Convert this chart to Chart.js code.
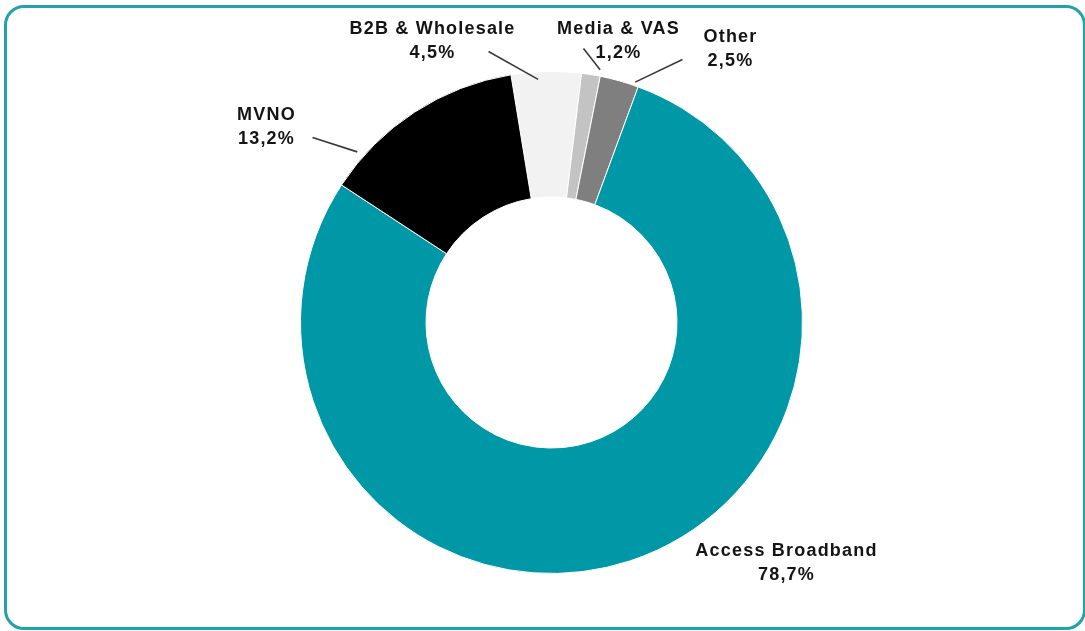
<!DOCTYPE html>
<html>
<head>
<meta charset="utf-8">
<script src="https://cdn.jsdelivr.net/npm/chart.js@4"></script>
<style>
  body { margin: 0; background: #fff; }
  #wrap { position: relative; width: 1085px; height: 631px; overflow: hidden; }
  #frame {
    position: absolute; left: 4px; top: 5px; width: 1082px; height: 625px;
    box-sizing: border-box; border: 3px solid #22a2ad; border-radius: 20px;
  }
  #chart { position: absolute; left: 0; top: 0; }
</style>
</head>
<body>
<div id="wrap">
  <div id="frame"></div>
  <canvas id="chart" width="1085" height="631"></canvas>
</div>
<script>
// data, clockwise from the top
const segments = ['B2B & Wholesale', 'Media & VAS', 'Other', 'Access Broadband', 'MVNO'];
const shares = [4.5, 1.2, 2.5, 78.7, 13.2];
const shareLabels = ['4,5%', '1,2%', '2,5%', '78,7%', '13,2%'];
const colors = ['#f2f2f2', '#c3c3c3', '#7f7f7f', '#0098a7', '#000000'];

// label placement, relative to the doughnut centre
// tx/ty: text centre + first baseline; lx/ly: outer end of leader; t/k: where on the arc the leader ends
const labelLayout = [
  { tx: -119, ty: -289, lx: -63, ly: -271, t: 0.38, k: 0.97 },
  { tx: 67, ty: -289, lx: 32, ly: -274, t: 0.93, k: 1.025 },
  { tx: 179, ty: -281, lx: 131, ly: -263, t: 0.89, k: 1.014 },
  { tx: 235, ty: 233, lx: null },
  { tx: -285, ty: -203, lx: -239, ly: -185, t: 0.17, k: 1.03 }
];

const labelPlugin = {
  id: 'outLabels',
  afterDraw(chart) {
    const ctx = chart.ctx;
    const arcs = chart.getDatasetMeta(0).data;
    ctx.save();
    arcs.forEach((arc, i) => {
      const p = arc.getProps(['x', 'y', 'startAngle', 'endAngle', 'outerRadius'], true);
      const lay = labelLayout[i];
      if (lay.lx !== null) {
        const a = p.startAngle + lay.t * (p.endAngle - p.startAngle);
        const r = p.outerRadius * lay.k;
        ctx.beginPath();
        ctx.moveTo(p.x + lay.lx, p.y + lay.ly);
        ctx.lineTo(p.x + Math.cos(a) * r, p.y + Math.sin(a) * r);
        ctx.strokeStyle = '#3a3a3a';
        ctx.lineWidth = 1.6;
        ctx.stroke();
      }
      ctx.fillStyle = '#141414';
      ctx.font = 'bold 18px "Liberation Sans", Arial, sans-serif';
      ctx.letterSpacing = '1.2px';
      ctx.textAlign = 'center';
      ctx.textBaseline = 'alphabetic';
      ctx.fillText(segments[i], p.x + lay.tx, p.y + lay.ty);
      ctx.fillText(shareLabels[i], p.x + lay.tx, p.y + lay.ty + 24);
    });
    ctx.restore();
  }
};

new Chart(document.getElementById('chart'), {
  type: 'doughnut',
  data: {
    labels: segments,
    datasets: [{
      data: shares,
      backgroundColor: colors,
      borderColor: '#ffffff',
      borderWidth: 1
    }]
  },
  options: {
    responsive: false,
    animation: false,
    rotation: -9.3,
    cutout: '50%',
    layout: { padding: { top: 71, bottom: 57, left: 18, right: 0 } },
    plugins: {
      legend: { display: false },
      tooltip: { enabled: false }
    }
  },
  plugins: [labelPlugin]
});
</script>
</body>
</html>
